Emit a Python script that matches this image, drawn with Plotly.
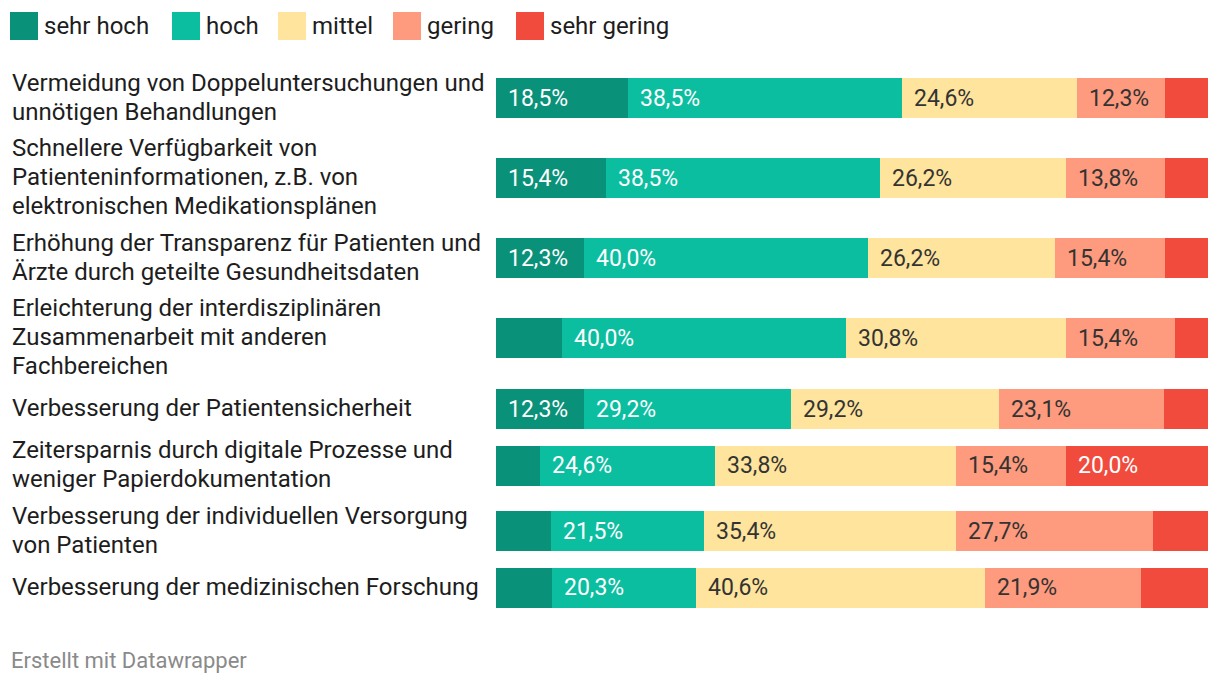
import plotly.graph_objects as go

categories = [
    "Vermeidung von Doppeluntersuchungen und<br>unnötigen Behandlungen",
    "Schnellere Verfügbarkeit von<br>Patienteninformationen, z.B. von<br>elektronischen Medikationsplänen",
    "Erhöhung der Transparenz für Patienten und<br>Ärzte durch geteilte Gesundheitsdaten",
    "Erleichterung der interdisziplinären<br>Zusammenarbeit mit anderen<br>Fachbereichen",
    "Verbesserung der Patientensicherheit",
    "Zeitersparnis durch digitale Prozesse und<br>weniger Papierdokumentation",
    "Verbesserung der individuellen Versorgung<br>von Patienten",
    "Verbesserung der medizinischen Forschung",
]
series_names = ["sehr hoch", "hoch", "mittel", "gering", "sehr gering"]
sehr_hoch   = [18.5, 15.4, 12.3, 9.2, 12.3, 6.2, 7.7, 7.8]
hoch        = [38.5, 38.5, 40.0, 40.0, 29.2, 24.6, 21.5, 20.3]
mittel      = [24.6, 26.2, 26.2, 30.8, 29.2, 33.8, 35.4, 40.6]
gering      = [12.3, 13.8, 15.4, 15.4, 23.1, 15.4, 27.7, 21.9]
sehr_gering = [6.1, 6.1, 6.1, 4.6, 6.2, 20.0, 7.7, 9.4]
series_values = [sehr_hoch, hoch, mittel, gering, sehr_gering]

colors = ["#0a917a", "#0bbea0", "#fee49c", "#fe9a7d", "#f04b3c"]
label_colors = ["#ffffff", "#ffffff", "#333333", "#333333", "#ffffff"]

# page body has an 8px margin; lay out in window pixels and compensate
OFF = 8
WIN_W, WIN_H = 1220, 684
W, H = WIN_W - OFF, WIN_H - OFF


def px(x):
    return (x - OFF) / W


bar_x0, bar_x1 = 496, 1208
bar_h = 40
line_h = 29
gap = 7.5

# row layout (window pixel y, from top)
n_lines = [c.count("<br>") + 1 for c in categories]
blocks = [max(bar_h, n * line_h) for n in n_lines]
centers = []
top = 98 - blocks[0] / 2
for b in blocks:
    centers.append(top + b / 2)
    top += b + gap

fig = go.Figure()
for name, vals, col in zip(series_names, series_values, colors):
    fig.add_trace(go.Bar(
        y=centers, x=vals, name=name, orientation="h",
        marker=dict(color=col, line=dict(width=0)),
        width=bar_h, showlegend=False, hoverinfo="skip",
    ))

annotations = []
# value labels
cum = [0.0] * len(categories)
for si, vals in enumerate(series_values):
    for i, v in enumerate(vals):
        if v >= 10:
            annotations.append(dict(
                x=cum[i], y=centers[i], xref="x", yref="y",
                text=f"{v:.1f}".replace(".", ",") + "%",
                showarrow=False, xanchor="left", yanchor="middle", xshift=10,
                font=dict(family="Roboto", size=23, color=label_colors[si]),
            ))
        cum[i] += v

# category labels, one annotation per line for 29px line height
for c, y in zip(categories, centers):
    parts = c.split("<br>")
    n = len(parts)
    for k, part in enumerate(parts):
        annotations.append(dict(
            x=px(10), y=y - 1 + (k - (n - 1) / 2) * line_h, xref="paper", yref="y",
            text=part, showarrow=False,
            xanchor="left", yanchor="middle", align="left",
            font=dict(family="Roboto", size=24, color="#1d1d1d"),
        ))

# legend
shapes = []
leg_x = [10, 172, 278, 393, 516]
for name, col, lx in zip(series_names, colors, leg_x):
    shapes.append(dict(type="rect", xref="paper", yref="y",
                       x0=px(lx), x1=px(lx + 28), y0=12, y1=40,
                       fillcolor=col, line=dict(width=0)))
    annotations.append(dict(
        x=px(lx + 32), y=26, xref="paper", yref="y", text=name,
        showarrow=False, xanchor="left", yanchor="middle",
        font=dict(family="Roboto", size=24, color="#1d1d1d"),
    ))

# footer
annotations.append(dict(
    x=px(9), y=660, xref="paper", yref="y", text="Erstellt mit Datawrapper",
    showarrow=False, xanchor="left", yanchor="middle",
    font=dict(family="Roboto", size=22, color="#8a8a8a"),
))

fig.update_layout(
    width=W, height=H, margin=dict(l=0, r=0, t=0, b=0),
    paper_bgcolor="white", plot_bgcolor="white",
    barmode="stack", bargap=0,
    xaxis=dict(domain=[px(bar_x0), px(bar_x1)], range=[0, 100], visible=False, fixedrange=True),
    yaxis=dict(domain=[0, 1], range=[WIN_H, OFF], visible=False, fixedrange=True),
    annotations=annotations, shapes=shapes,
)

fig.write_html("out.html")
